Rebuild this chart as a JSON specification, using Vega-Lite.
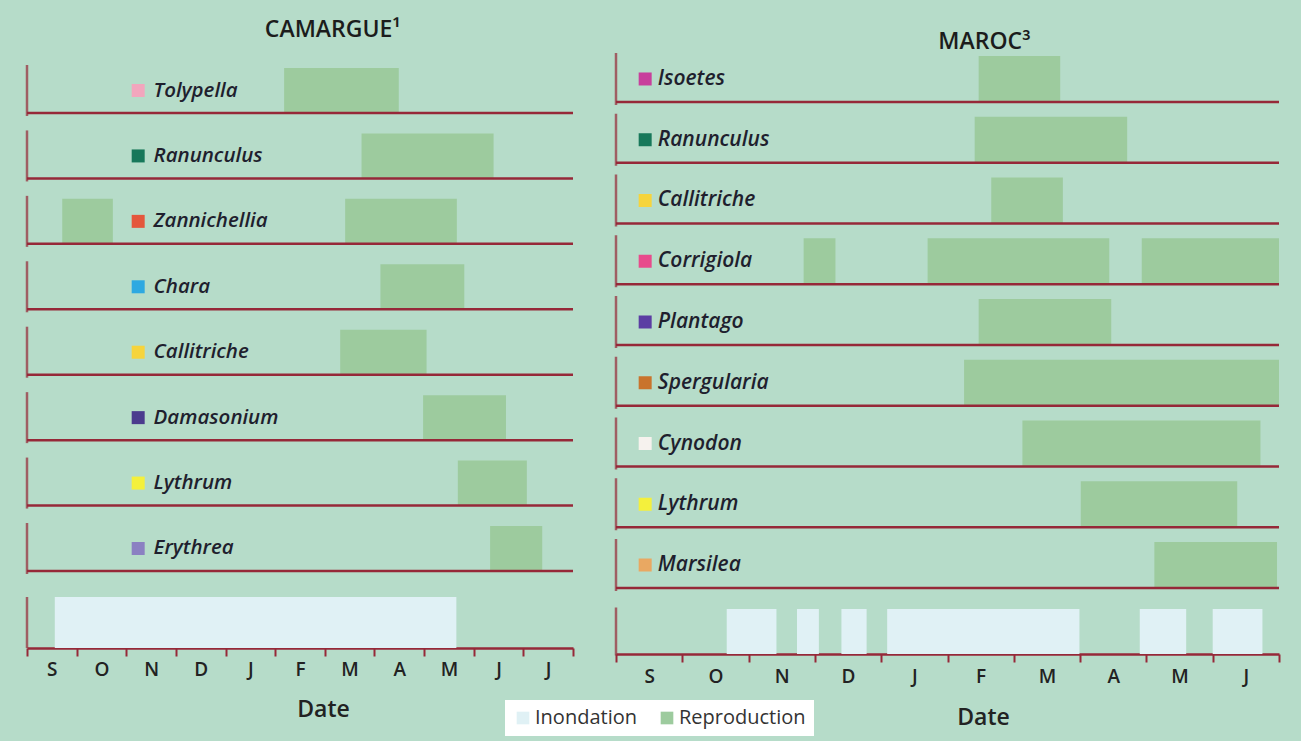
{
  "$schema": "https://vega.github.io/schema/vega-lite/v6.json",
  "background": "#b6dcc9",
  "padding": {"left": 25, "top": 19, "right": 5, "bottom": 5},
  "config": {
    "view": {"stroke": null},
    "font": "Open Sans",
    "legend": {
      "orient": "none", "legendX": 478, "legendY": 653, "direction": "horizontal",
      "fillColor": "#ffffff", "padding": 8, "labelFontSize": 20, "labelColor": "#333333",
      "labelFont": "Open Sans", "symbolType": "square", "symbolSize": 160, "symbolStrokeWidth": 0,
      "symbolOpacity": 1, "columnPadding": 20, "labelOffset": 2
    }
  },
  "datasets": {
    "cam_bars": [
      {"species": "Tolypella", "start": 5.18, "end": 7.49, "kind": "Reproduction"},
      {"species": "Ranunculus", "start": 6.74, "end": 9.40, "kind": "Reproduction"},
      {"species": "Zannichellia", "start": 0.71, "end": 1.73, "kind": "Reproduction"},
      {"species": "Zannichellia", "start": 6.41, "end": 8.66, "kind": "Reproduction"},
      {"species": "Chara", "start": 7.12, "end": 8.81, "kind": "Reproduction"},
      {"species": "Callitriche", "start": 6.31, "end": 8.05, "kind": "Reproduction"},
      {"species": "Damasonium", "start": 7.98, "end": 9.65, "kind": "Reproduction"},
      {"species": "Lythrum", "start": 8.68, "end": 10.07, "kind": "Reproduction"},
      {"species": "Erythrea", "start": 9.33, "end": 10.38, "kind": "Reproduction"}
    ],
    "cam_species": [
      {"species": "Tolypella"}, {"species": "Ranunculus"}, {"species": "Zannichellia"},
      {"species": "Chara"}, {"species": "Callitriche"}, {"species": "Damasonium"},
      {"species": "Lythrum"}, {"species": "Erythrea"}
    ],
    "cam_inond": [
      {"row": "Inondation", "start": 0.56, "end": 8.65, "kind": "Inondation"}
    ],
    "mar_bars": [
      {"species": "Isoetes", "start": 5.47, "end": 6.70, "kind": "Reproduction"},
      {"species": "Ranunculus", "start": 5.41, "end": 7.71, "kind": "Reproduction"},
      {"species": "Callitriche", "start": 5.66, "end": 6.74, "kind": "Reproduction"},
      {"species": "Corrigiola", "start": 2.83, "end": 3.31, "kind": "Reproduction"},
      {"species": "Corrigiola", "start": 4.70, "end": 7.44, "kind": "Reproduction"},
      {"species": "Corrigiola", "start": 7.93, "end": 10.0, "kind": "Reproduction"},
      {"species": "Plantago", "start": 5.47, "end": 7.47, "kind": "Reproduction"},
      {"species": "Spergularia", "start": 5.25, "end": 10.0, "kind": "Reproduction"},
      {"species": "Cynodon", "start": 6.13, "end": 9.72, "kind": "Reproduction"},
      {"species": "Lythrum", "start": 7.01, "end": 9.37, "kind": "Reproduction"},
      {"species": "Marsilea", "start": 8.12, "end": 9.97, "kind": "Reproduction"}
    ],
    "mar_species": [
      {"species": "Isoetes"}, {"species": "Ranunculus"}, {"species": "Callitriche"},
      {"species": "Corrigiola"}, {"species": "Plantago"}, {"species": "Spergularia"},
      {"species": "Cynodon"}, {"species": "Lythrum"}, {"species": "Marsilea"}
    ],
    "mar_inond": [
      {"row": "Inondation", "start": 1.67, "end": 2.42, "kind": "Inondation"},
      {"row": "Inondation", "start": 2.73, "end": 3.06, "kind": "Inondation"},
      {"row": "Inondation", "start": 3.40, "end": 3.78, "kind": "Inondation"},
      {"row": "Inondation", "start": 4.09, "end": 6.99, "kind": "Inondation"},
      {"row": "Inondation", "start": 7.90, "end": 8.60, "kind": "Inondation"},
      {"row": "Inondation", "start": 9.00, "end": 9.75, "kind": "Inondation"}
    ],
    "inond_row": [{"row": "Inondation"}]
  },
  "spacing": 16,
  "resolve": {"scale": {"x": "independent", "y": "independent"}},
  "hconcat": [
    {
      "title": {"text": "CAMARGUE¹", "fontSize": 23, "fontWeight": 600, "color": "#1c1c1c", "offset": 5, "dx": 21, "anchor": "middle"},
      "spacing": 23,
      "resolve": {"scale": {"x": "independent", "y": "independent"}},
      "vconcat": [
        {
          "width": 546, "height": 524,
          "layer": [
            {
              "data": {"name": "cam_bars"},
              "mark": {"type": "bar", "cornerRadius": 0},
              "encoding": {
                "x": {"field": "start", "type": "quantitative", "scale": {"domain": [0, 11], "nice": false, "zero": false}, "axis": null},
                "x2": {"field": "end"},
                "y": {"field": "species", "type": "nominal", "axis": null, "scale": {"domain": ["Tolypella", "Ranunculus", "Zannichellia", "Chara", "Callitriche", "Damasonium", "Lythrum", "Erythrea"], "paddingInner": 0.312, "paddingOuter": 0.1605, "align": 1}},
                "color": {"field": "kind", "type": "nominal", "scale": {"domain": ["Inondation", "Reproduction"], "range": ["#e0f1f5", "#9dcb9e"]}, "legend": {"title": null}}
              }
            },
            {
              "data": {"name": "cam_species"},
              "mark": {"type": "rule", "color": "#962838", "strokeWidth": 2.5},
              "encoding": {
                "x": {"datum": 0, "type": "quantitative"},
                "x2": {"datum": 11},
                "y": {"field": "species", "type": "nominal", "bandPosition": 1, "axis": null}
              }
            },
            {
              "data": {"name": "cam_species"},
              "mark": {"type": "tick", "orient": "vertical", "color": "#962838", "thickness": 2.5, "size": 51},
              "encoding": {
                "x": {"datum": 0, "type": "quantitative"},
                "y": {"field": "species", "type": "nominal", "axis": null}
              }
            },
            {
              "data": {"name": "cam_species"},
              "mark": {"type": "square", "size": 169, "filled": true, "opacity": 1},
              "encoding": {
                "x": {"datum": 2.24, "type": "quantitative"},
                "y": {"field": "species", "type": "nominal", "axis": null},
                "fill": {"field": "species", "type": "nominal", "legend": null, "scale": {"domain": ["Tolypella", "Ranunculus", "Zannichellia", "Chara", "Callitriche", "Damasonium", "Lythrum", "Erythrea", "Isoetes", "Corrigiola", "Plantago", "Spergularia", "Cynodon", "Marsilea"], "range": ["#f2a6bd", "#17785a", "#e4573c", "#2ea9e1", "#f6d43c", "#4b3b8e", "#f4f03c", "#8b80c2", "#c83f9c", "#e84b8c", "#5b3da3", "#c9742d", "#f6f2ee", "#e9a862"]}}
              }
            },
            {
              "data": {"name": "cam_species"},
              "mark": {"type": "text", "align": "left", "baseline": "middle", "fontSize": 20.5, "fontStyle": "italic", "fontWeight": 600, "color": "#1f1f2e"},
              "encoding": {
                "x": {"datum": 2.55, "type": "quantitative"},
                "y": {"field": "species", "type": "nominal", "axis": null},
                "text": {"field": "species"}
              }
            }
          ]
        },
        {
          "width": 546, "height": 51,
          "layer": [
            {
              "data": {"name": "cam_inond"},
              "mark": {"type": "bar", "cornerRadius": 0},
              "encoding": {
                "x": {"field": "start", "type": "quantitative", "scale": {"domain": [0, 11], "nice": false, "zero": false},
                  "axis": {"values": [0, 1, 2, 3, 4, 5, 6, 7, 8, 9, 10, 11], "labelExpr": "['S','O','N','D','J','F','M','A','M','J','J',''][datum.value]", "labelOffset": 24.8, "labelFlush": false, "labelOverlap": false, "grid": false, "domainColor": "#962838", "domainWidth": 2.5, "tickColor": "#962838", "tickWidth": 2, "tickSize": 8, "labelFontSize": 19, "labelFontWeight": 600, "labelColor": "#222222", "labelPadding": 4, "title": "Date", "titleFontSize": 23, "titleFontWeight": 600, "titleColor": "#222222", "titlePadding": 19, "titleX": 296}},
                "x2": {"field": "end"},
                "y": {"field": "row", "type": "nominal", "axis": null, "scale": {"paddingInner": 0, "paddingOuter": 0}},
                "color": {"field": "kind", "type": "nominal", "scale": {"domain": ["Inondation", "Reproduction"], "range": ["#e0f1f5", "#9dcb9e"]}, "legend": {"title": null}}
              }
            },
            {
              "data": {"name": "inond_row"},
              "mark": {"type": "tick", "orient": "vertical", "color": "#962838", "thickness": 2.5, "size": 51},
              "encoding": {
                "x": {"datum": 0, "type": "quantitative"},
                "y": {"field": "row", "type": "nominal", "axis": null}
              }
            }
          ]
        }
      ]
    },
    {
      "title": {"text": "MAROC³", "fontSize": 23, "fontWeight": 600, "color": "#1c1c1c", "offset": -6.5, "dx": 21, "anchor": "middle"},
      "spacing": 15,
      "resolve": {"scale": {"x": "independent", "y": "independent"}},
      "vconcat": [
        {
          "width": 663, "height": 541,
          "layer": [
            {
              "data": {"name": "mar_bars"},
              "mark": {"type": "bar", "cornerRadius": 0},
              "encoding": {
                "x": {"field": "start", "type": "quantitative", "scale": {"domain": [0, 10], "nice": false, "zero": false}, "axis": null},
                "x2": {"field": "end"},
                "y": {"field": "species", "type": "nominal", "axis": null, "scale": {"domain": ["Isoetes", "Ranunculus", "Callitriche", "Corrigiola", "Plantago", "Spergularia", "Cynodon", "Lythrum", "Marsilea"], "paddingInner": 0.243, "paddingOuter": 0.074, "align": 1}},
                "color": {"field": "kind", "type": "nominal", "scale": {"domain": ["Inondation", "Reproduction"], "range": ["#e0f1f5", "#9dcb9e"]}, "legend": {"title": null}}
              }
            },
            {
              "data": {"name": "mar_species"},
              "mark": {"type": "rule", "color": "#962838", "strokeWidth": 2.5},
              "encoding": {
                "x": {"datum": 0, "type": "quantitative"},
                "x2": {"datum": 10},
                "y": {"field": "species", "type": "nominal", "bandPosition": 1, "axis": null}
              }
            },
            {
              "data": {"name": "mar_species"},
              "mark": {"type": "tick", "orient": "vertical", "color": "#962838", "thickness": 2.5, "size": 52},
              "encoding": {
                "x": {"datum": 0, "type": "quantitative"},
                "y": {"field": "species", "type": "nominal", "axis": null}
              }
            },
            {
              "data": {"name": "mar_species"},
              "mark": {"type": "square", "size": 169, "filled": true, "opacity": 1},
              "encoding": {
                "x": {"datum": 0.44, "type": "quantitative"},
                "y": {"field": "species", "type": "nominal", "axis": null},
                "fill": {"field": "species", "type": "nominal", "legend": null, "scale": {"domain": ["Tolypella", "Ranunculus", "Zannichellia", "Chara", "Callitriche", "Damasonium", "Lythrum", "Erythrea", "Isoetes", "Corrigiola", "Plantago", "Spergularia", "Cynodon", "Marsilea"], "range": ["#f2a6bd", "#17785a", "#e4573c", "#2ea9e1", "#f6d43c", "#4b3b8e", "#f4f03c", "#8b80c2", "#c83f9c", "#e84b8c", "#5b3da3", "#c9742d", "#f6f2ee", "#e9a862"]}}
              }
            },
            {
              "data": {"name": "mar_species"},
              "mark": {"type": "text", "align": "left", "baseline": "middle", "fontSize": 21, "fontStyle": "italic", "fontWeight": 600, "color": "#1f1f2e"},
              "encoding": {
                "x": {"datum": 0.63, "type": "quantitative"},
                "y": {"field": "species", "type": "nominal", "axis": null},
                "text": {"field": "species"}
              }
            }
          ]
        },
        {
          "width": 663, "height": 45,
          "layer": [
            {
              "data": {"name": "mar_inond"},
              "mark": {"type": "bar", "cornerRadius": 0},
              "encoding": {
                "x": {"field": "start", "type": "quantitative", "scale": {"domain": [0, 10], "nice": false, "zero": false},
                  "axis": {"values": [0, 1, 2, 3, 4, 5, 6, 7, 8, 9, 10], "labelExpr": "['S','O','N','D','J','F','M','A','M','J',''][datum.value]", "labelOffset": 33.1, "labelFlush": false, "labelOverlap": false, "grid": false, "domainColor": "#962838", "domainWidth": 2.5, "tickColor": "#962838", "tickWidth": 2, "tickSize": 8, "labelFontSize": 19, "labelFontWeight": 600, "labelColor": "#222222", "labelPadding": 5, "title": "Date", "titleFontSize": 23, "titleFontWeight": 600, "titleColor": "#222222", "titlePadding": 20, "titleX": 367}},
                "x2": {"field": "end"},
                "y": {"field": "row", "type": "nominal", "axis": null, "scale": {"paddingInner": 0, "paddingOuter": 0}},
                "color": {"field": "kind", "type": "nominal", "scale": {"domain": ["Inondation", "Reproduction"], "range": ["#e0f1f5", "#9dcb9e"]}, "legend": {"title": null}}
              }
            },
            {
              "data": {"name": "inond_row"},
              "mark": {"type": "tick", "orient": "vertical", "color": "#962838", "thickness": 2.5, "size": 48},
              "encoding": {
                "x": {"datum": 0, "type": "quantitative"},
                "y": {"field": "row", "type": "nominal", "axis": null}
              }
            }
          ]
        }
      ]
    }
  ]
}
